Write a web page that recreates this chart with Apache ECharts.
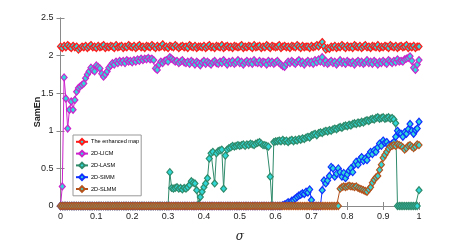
<!DOCTYPE html>
<html><head><meta charset="utf-8">
<script src="https://cdn.jsdelivr.net/npm/echarts@6/dist/echarts.min.js"></script>
<style>html,body{margin:0;padding:0;background:#fff}#c{width:463px;height:245px}</style>
</head><body><div id="c"></div>
<script>
// sigma grid: 201 samples from 0 to 1
const sigmaStep = 0.005;
const nPoints = 201;
const xTicks = [0,0.1,0.2,0.3,0.4,0.5,0.6,0.7,0.8,0.9,1];
const yTicks = [0,0.5,1,1.5,2,2.5];
const seriesNames = ['The enhanced map','2D-LICM','2D-LASM','2D-SIMM','2D-SLMM'];

const enhanced = [
2.12,2.10,2.13,2.11,2.14,2.12,2.10,2.13,2.11,2.12,2.08,2.10,2.12,2.11,2.13,2.10,2.12,2.14,2.11,2.12,
2.10,2.13,2.11,2.12,2.14,2.10,2.12,2.11,2.13,2.12,2.10,2.14,2.11,2.12,2.13,2.10,2.12,2.11,2.14,2.12,
2.11,2.13,2.10,2.12,2.14,2.11,2.12,2.10,2.13,2.12,2.11,2.14,2.12,2.10,2.13,2.11,2.12,2.15,2.11,2.12,
2.10,2.13,2.12,2.11,2.14,2.12,2.10,2.12,2.13,2.11,2.12,2.10,2.14,2.12,2.11,2.13,2.10,2.12,2.12,2.11,
2.13,2.10,2.12,2.14,2.11,2.12,2.10,2.13,2.12,2.11,2.14,2.10,2.12,2.13,2.11,2.12,2.10,2.13,2.12,2.11,
2.12,2.14,2.10,2.12,2.11,2.13,2.12,2.10,2.14,2.11,2.12,2.13,2.10,2.12,2.11,2.14,2.12,2.10,2.13,2.12,
2.11,2.12,2.14,2.10,2.12,2.13,2.11,2.12,2.10,2.13,2.12,2.11,2.14,2.12,2.10,2.13,2.11,2.12,2.12,2.10,
2.13,2.11,2.12,2.14,2.12,2.15,2.18,2.12,2.08,2.10,2.09,2.12,2.11,2.13,2.10,2.12,2.11,2.14,2.12,2.10,
2.13,2.11,2.12,2.10,2.14,2.12,2.11,2.13,2.10,2.12,2.14,2.11,2.12,2.10,2.13,2.12,2.11,2.14,2.10,2.12,
2.11,2.13,2.12,2.10,2.14,2.12,2.11,2.13,2.10,2.12,2.13,2.11,2.12,2.14,2.10,2.12,2.11,2.13,2.10,2.12,
2.12];

const licm = [
0,0.26,1.71,1.43,1.03,1.28,1.39,1.28,1.41,1.52,1.57,1.59,1.61,1.63,1.70,1.75,1.79,1.84,1.81,1.79,
1.87,1.85,1.83,1.76,1.72,1.75,1.79,1.84,1.87,1.90,1.88,1.92,1.90,1.93,1.91,1.93,1.90,1.94,1.92,1.93,
1.91,1.94,1.92,1.95,1.93,1.96,1.94,1.96,1.95,1.97,1.95,1.96,1.94,1.83,1.81,1.88,1.92,1.90,1.93,1.94,
1.92,1.98,1.96,1.94,1.92,1.93,1.90,1.92,1.94,1.91,
1.90,1.92,1.89,1.93,1.91,1.88,1.92,1.90,1.87,1.91,1.93,1.89,1.92,1.90,1.88,1.91,1.93,1.90,1.89,1.92,
1.90,1.94,1.91,1.88,1.92,1.90,1.93,1.89,1.91,1.94,1.90,1.92,1.88,1.91,1.93,1.90,1.92,1.89,1.94,1.91,
1.90,1.93,1.89,1.92,1.91,1.88,1.93,1.90,1.92,1.89,1.91,1.93,1.90,1.88,1.86,1.85,1.89,1.92,1.90,1.93,
1.91,1.89,1.92,1.94,1.90,1.92,1.88,1.91,1.93,1.90,1.92,1.89,1.94,1.91,1.95,1.92,1.98,1.90,1.93,1.89,
1.91,1.93,1.90,1.92,1.88,1.91,1.94,1.90,1.92,1.89,1.93,1.91,1.90,1.92,1.88,1.91,1.93,1.90,1.92,1.89,
1.91,1.94,1.90,1.92,1.89,1.93,1.91,1.88,1.92,1.90,1.93,1.91,1.89,1.94,1.92,1.90,1.93,1.91,1.95,1.92,
1.93,1.92,1.95,1.96,1.97,1.99,1.93,1.84,1.81,1.88,1.94];

const lasm = [
0,0,0,0,0,0,0,0,0,0,0,0,0,0,0,0,0,0,0,0,
0,0,0,0,0,0,0,0,0,0,0,0,0,0,0,0,0,0,0,0,
0,0,0,0,0,0,0,0,0,0,0,0,0,0,0,0,0,0,0,0,
0,0.45,0.24,0.23,0.24,0.25,0.23,0.24,0.22,0.24,
0.23,0.25,0.28,0.33,0.31,0.30,0.21,0.02,0.12,0.19,
0.25,0.30,0.37,0.63,0.70,0.72,0.30,0.70,0.73,0.74,
0.75,0.23,0.67,0.75,0.77,0.78,0.80,0.79,0.80,0.81,
0.80,0.81,0.82,0.80,0.82,0.81,0.83,0.82,0.81,0.83,
0.84,0.85,0.83,0.81,0.81,0.80,0.79,0.39,0.00,0.85,
0.86,0.86,0.87,0.86,0.88,0.86,0.87,0.85,0.87,0.88,
0.86,0.88,0.87,0.89,0.88,0.90,0.89,0.91,0.92,0.91,
0.94,0.95,0.96,0.94,0.97,0.98,0.97,0.99,1.00,0.99,
1.01,1.00,1.02,1.03,1.02,1.04,1.05,1.04,1.06,1.07,
1.06,1.08,1.07,1.09,1.10,1.09,1.11,1.10,1.12,1.11,
1.13,1.14,1.13,1.15,1.16,1.15,1.17,1.18,1.16,1.17,
1.18,1.16,1.17,1.18,1.16,1.17,1.15,1.10,0,0,
0,0,0,0,0,0,0,0,0,0,
0.21];

const simm = [
0,0,0,0,0,0,0,0,0,0,0,0,0,0,0,0,0,0,0,0,
0,0,0,0,0,0,0,0,0,0,0,0,0,0,0,0,0,0,0,0,
0,0,0,0,0,0,0,0,0,0,0,0,0,0,0,0,0,0,0,0,
0,0,0,0,0,0,0,0,0,0,0,0,0,0,0,0,0,0,0,0,
0,0,0,0,0,0,0,0,0,0,0,0,0,0,0,0,0,0,0,0,
0,0,0,0,0,0,0,0,0,0,0,0,0,0,0,0,0,0,0,0,
0,0,0,0,0.01,0.02,0.03,0.05,0.04,0.07,
0.08,0.10,0.12,0.14,0.15,0.17,0.16,0.19,0.18,0.22,
0.08,0,0,0,0,0,0.21,0.34,0.30,0.34,
0.40,0.52,0.50,0.39,0.43,0.50,0.45,0.39,0.44,0.37,
0.42,0.47,0.50,0.45,0.55,0.59,0.55,0.62,0.65,0.60,
0.63,0.61,0.68,0.72,0.69,0.74,0.72,0.78,0.83,0.80,
0.87,0.84,0.85,0.81,0.79,0.83,0.85,0.92,1.00,0.97,
0.96,0.92,0.98,0.96,1.02,1.09,1.00,0.96,1.01,1.03,
1.12];

const slmm = [
0,0,0,0,0,0,0,0,0,0,0,0,0,0,0,0,0,0,0,0,
0,0,0,0,0,0,0,0,0,0,0,0,0,0,0,0,0,0,0,0,
0,0,0,0,0,0,0,0,0,0,0,0,0,0,0,0,0,0,0,0,
0,0,0,0,0,0,0,0,0,0,0,0,0,0,0,0,0,0,0,0,
0,0,0,0,0,0,0,0,0,0,0,0,0,0,0,0,0,0,0,0,
0,0,0,0,0,0,0,0,0,0,0,0,0,0,0,0,0,0,0,0,
0,0,0,0,0,0,0,0,0,0,0,0,0,0,0,0,0,0,0,0,
0,0,0,0,0,0,0,0,0,0,0,0,0,0,0,0,
0.23,0.25,0.26,0.25,
0.26,0.27,0.26,0.26,0.25,0.26,0.24,0.23,0.22,0.21,
0.20,0.19,0.22,0.25,0.31,0.35,0.38,0.40,0.48,0.55,
0.64,0.68,0.72,0.76,0.79,0.80,0.81,0.80,0.82,0.81,
0.80,0.78,0.75,0.77,0.80,0.81,0.79,0.77,0.79,0.82,
0.81];

const lineColors = ['#ff1a1a','#cc22cc','#2f8a6a','#1030ff','#b5521c'];
const fillColor = '#30d8d8';

function pairs(vals){ return vals.map((v,i)=>[+(i*sigmaStep).toFixed(3), v]); }
const allData = [enhanced, licm, lasm, simm, slmm];

const chart = echarts.init(document.getElementById('c'), null, {renderer:'canvas'});
const axisGrey = '#8a8a8a';
const font = 'Liberation Sans, Arial, sans-serif';
chart.setOption({
  animation:false,
  grid:{left:60.5, right:44, top:18, bottom:39, outerBoundsMode:'none', containLabel:false},
  legend:{
    orient:'vertical', left:73, top:135,
    data:seriesNames,
    backgroundColor:'#fff', borderColor:'#999', borderWidth:1,
    padding:[3,2,3,2], itemGap:4.2, itemWidth:12, itemHeight:7,
    textStyle:{fontSize:5.6, fontFamily:'Liberation Sans, Arial, sans-serif', color:'#000', padding:[0,0,0,-2]}
  },
  xAxis:[{
    type:'value', min:0, max:1, interval:0.1,
    name:'σ', nameLocation:'middle', nameGap:25,
    nameTextStyle:{fontSize:12, fontStyle:'italic', fontFamily:'DejaVu Serif, serif', color:'#222'},
    axisLine:{lineStyle:{color:axisGrey, width:1}},
    axisTick:{inside:true, length:4, lineStyle:{color:axisGrey}},
    axisLabel:{fontSize:9, color:'#222', margin:6, fontFamily:font,
      formatter:v=>String(+v.toFixed(1))},
    splitLine:{show:false}
  },{
    type:'value', position:'top', min:0, max:1, interval:0.1,
    axisLine:{lineStyle:{color:axisGrey, width:1}},
    axisTick:{inside:true, length:4, lineStyle:{color:axisGrey}},
    axisLabel:{show:false}, splitLine:{show:false}
  }],
  yAxis:[{
    type:'value', min:0, max:2.5, interval:0.5,
    name:'SamEn', nameLocation:'middle', nameGap:18, nameMoveOverlap:false,
    nameTextStyle:{fontSize:9, fontWeight:'bold', fontFamily:font, color:'#222'},
    axisLine:{show:true, lineStyle:{color:axisGrey, width:1}},
    axisTick:{show:true, inside:true, length:4, lineStyle:{color:axisGrey}},
    axisLabel:{fontSize:9, color:'#222', margin:7, fontFamily:font},
    splitLine:{show:false}
  },{
    type:'value', position:'right', min:0, max:2.5, interval:0.5,
    axisLine:{show:true, lineStyle:{color:axisGrey, width:1}},
    axisTick:{show:true, inside:true, length:4, lineStyle:{color:axisGrey}},
    axisLabel:{show:false}, splitLine:{show:false}
  }],
  series: seriesNames.map((n,k)=>({
    name:n, type:'line', data:pairs(allData[k]),
    xAxisIndex:0, yAxisIndex:0,
    symbol:'diamond', symbolSize:[6,7], showSymbol:true,
    lineStyle:{color:lineColors[k], width:1},
    itemStyle:{color:fillColor, borderColor:lineColors[k], borderWidth:1.2},
    emphasis:{disabled:true}, clip:false, z:2+k
  }))
});
</script></body></html>
